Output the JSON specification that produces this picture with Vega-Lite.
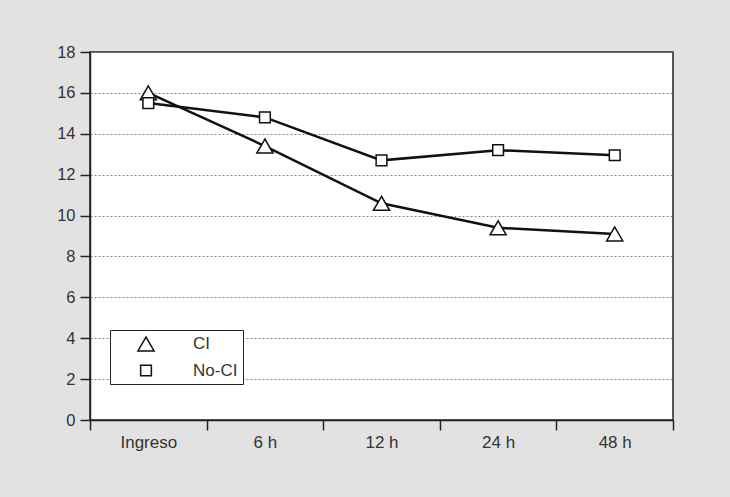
{
  "$schema": "https://vega.github.io/schema/vega-lite/v6.json",
  "width": 583,
  "height": 368,
  "autosize": {"type": "none"},
  "padding": {"left": 90, "top": 52, "right": 57, "bottom": 77},
  "background": "#e2e2e2",
  "view": {"fill": "white", "stroke": "#222", "strokeWidth": 1.5},
  "config": {"font": "Liberation Sans"},
  "data": {
    "values": [
      {"time": "Ingreso", "series": "CI", "value": 16.0},
      {"time": "6 h", "series": "CI", "value": 13.4},
      {"time": "12 h", "series": "CI", "value": 10.6},
      {"time": "24 h", "series": "CI", "value": 9.4},
      {"time": "48 h", "series": "CI", "value": 9.1},
      {"time": "Ingreso", "series": "No-CI", "value": 15.5},
      {"time": "6 h", "series": "No-CI", "value": 14.8},
      {"time": "12 h", "series": "No-CI", "value": 12.7},
      {"time": "24 h", "series": "No-CI", "value": 13.2},
      {"time": "48 h", "series": "No-CI", "value": 12.95}
    ]
  },
  "encoding": {
    "x": {
      "field": "time",
      "type": "nominal",
      "sort": ["Ingreso", "6 h", "12 h", "24 h", "48 h"],
      "scale": {"paddingInner": 0, "paddingOuter": 0},
      "axis": {
        "title": null,
        "labelAngle": 0,
        "tickBand": "extent",
        "tickSize": 10,
        "tickColor": "#222",
        "tickWidth": 1.5,
        "domainColor": "#222",
        "domainWidth": 1.5,
        "labelPadding": 4,
        "labelFontSize": 17,
        "labelColor": "#333",
        "grid": false
      }
    },
    "y": {
      "field": "value",
      "type": "quantitative",
      "scale": {"domain": [0, 18], "nice": false},
      "axis": {
        "title": null,
        "values": [0, 2, 4, 6, 8, 10, 12, 14, 16, 18],
        "tickSize": 10,
        "tickColor": "#222",
        "tickWidth": 1.5,
        "domainColor": "#222",
        "domainWidth": 1.5,
        "labelPadding": 5,
        "labelFontSize": 16.5,
        "labelColor": "#333",
        "grid": true,
        "gridColor": "#888",
        "gridDash": [2, 2],
        "gridWidth": 1
      }
    }
  },
  "layer": [
    {
      "mark": {"type": "line", "color": "#111", "strokeWidth": 2.5},
      "encoding": {"detail": {"field": "series", "type": "nominal"}}
    },
    {
      "mark": {"type": "point", "filled": true, "fill": "white", "stroke": "#111", "strokeWidth": 1.5, "opacity": 1},
      "encoding": {
        "shape": {
          "field": "series",
          "type": "nominal",
          "scale": {"domain": ["CI", "No-CI"], "range": ["triangle-up", "square"]},
          "legend": {
            "title": null,
            "orient": "none",
            "legendX": 20,
            "legendY": 278,
            "fillColor": "white",
            "strokeColor": "#222",
            "padding": 5,
            "rowPadding": 7,
            "symbolOffset": 22,
            "symbolStrokeWidth": 1.5,
            "labelOffset": 38,
            "labelFontSize": 17,
            "labelColor": "#333"
          }
        },
        "size": {
          "field": "series",
          "type": "nominal",
          "scale": {"domain": ["CI", "No-CI"], "range": [260, 115]},
          "legend": {
            "title": null,
            "orient": "none",
            "legendX": 20,
            "legendY": 278,
            "fillColor": "white",
            "strokeColor": "#222",
            "padding": 5,
            "rowPadding": 7,
            "symbolOffset": 22,
            "symbolStrokeWidth": 1.5,
            "labelOffset": 38,
            "labelFontSize": 17,
            "labelColor": "#333"
          }
        }
      }
    }
  ]
}
